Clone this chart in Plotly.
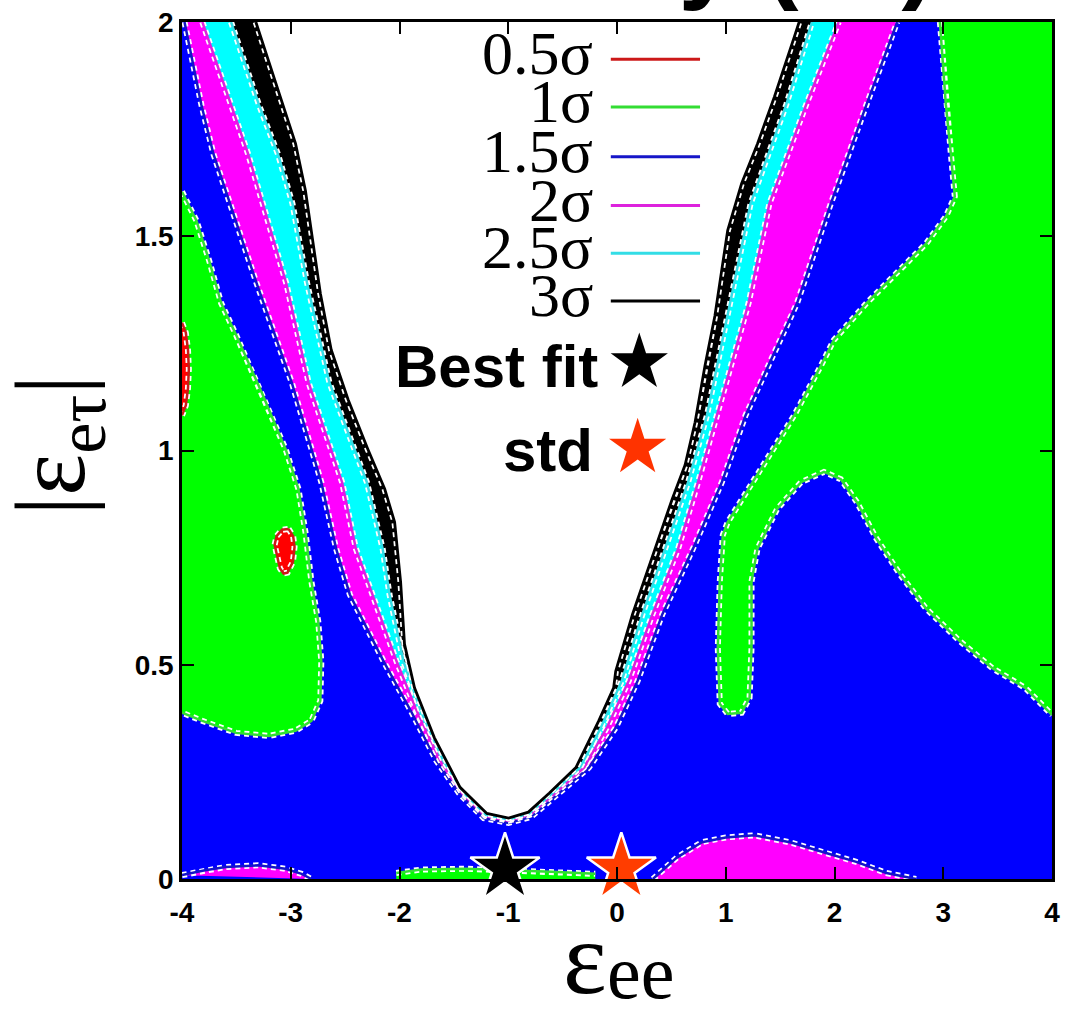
import plotly.graph_objects as go

# ---------------- axes ----------------
x_range = [-4, 4]
y_range = [0, 2]
x_ticks = [-4, -3, -2, -1, 0, 1, 2, 3, 4]
x_tick_labels = ['-4', '-3', '-2', '-1', '0', '1', '2', '3', '4']
y_ticks = [0, 0.5, 1, 1.5, 2]
y_tick_labels = ['0', '0.5', '1', '1.5', '2']

# ---------------- contour boundaries (eps_ee, |eps_etau|) ----------------
# 3 sigma (edge of the excluded white region)
s3_x = [-3.321, -3.202, -3.084, -2.956, -2.865, -2.810, -2.728, -2.628, -2.473, -2.291,
        -2.136, -2.045, -2.018, -1.990, -1.954, -1.862, -1.680, -1.443, -1.197, -0.997,
        -0.815, -0.624, -0.378, -0.168, -0.031, -0.012, 0.143, 0.352, 0.508, 0.626,
        0.718, 0.809, 0.900, 1.018, 1.146, 1.292, 1.447, 1.629, 1.675]
s3_y = [2.0, 1.908, 1.815, 1.716, 1.607, 1.514, 1.367, 1.235, 1.119, 1.003,
        0.910, 0.833, 0.771, 0.694, 0.548, 0.446, 0.330, 0.214, 0.153, 0.142,
        0.156, 0.200, 0.260, 0.369, 0.446, 0.485, 0.618, 0.771, 0.887, 0.966,
        1.066, 1.198, 1.314, 1.514, 1.623, 1.716, 1.825, 1.964, 2.0]

# 2.5 sigma
s25_x = [-3.549, -3.293, -3.118, -2.984, -2.850, -2.644, -2.300, -2.155, -2.092, -1.964,
         -1.804, -1.597, -1.406, -1.205, -0.997, -0.808,
         -0.597, -0.340, -0.149, 0.043, 0.234, 0.444, 0.654, 0.827, 1.036, 1.228, 1.556, 1.793]
s25_y = [2.0, 1.807, 1.692, 1.576, 1.391, 1.158, 0.926, 0.771, 0.664, 0.508,
         0.392, 0.276, 0.200, 0.150, 0.139, 0.153,
         0.200, 0.260, 0.353, 0.462, 0.618, 0.771, 0.926, 1.082, 1.344, 1.576, 1.807, 2.0]

# 2 sigma
s2_x = [-3.813, -3.548, -3.392, -3.257, -3.042, -2.835, -2.528, -2.401, -2.247, -2.027,
        -1.841, -1.625, -1.424, -1.212, -0.997, -0.800,
        -0.569, -0.304, -0.094, 0.107, 0.326, 0.562, 0.745, 0.918, 1.210, 1.401, 1.739, 2.039]
s2_y = [2.0, 1.807, 1.692, 1.576, 1.391, 1.158, 0.926, 0.771, 0.664, 0.508,
        0.392, 0.276, 0.200, 0.147, 0.136, 0.150,
        0.200, 0.260, 0.353, 0.462, 0.618, 0.771, 0.926, 1.082, 1.344, 1.576, 1.807, 2.0]

# 1.5 sigma
s15_x = [-3.977, -3.822, -3.711, -3.558, -3.315, -2.990, -2.719, -2.583, -2.457, -2.146,
         -1.895, -1.661, -1.452, -1.225, -0.997, -0.790,
         -0.532, -0.258, -0.012, 0.189, 0.417, 0.699, 0.964, 1.182, 1.656, 1.966, 2.294, 2.577]
s15_y = [2.0, 1.807, 1.692, 1.576, 1.391, 1.158, 0.926, 0.771, 0.664, 0.508,
         0.392, 0.276, 0.200, 0.142, 0.131, 0.145,
         0.200, 0.260, 0.353, 0.462, 0.618, 0.771, 0.926, 1.082, 1.344, 1.576, 1.807, 2.0]

# 1.5 sigma islands near |eps_etau| = 0 (2 sigma inside)
m_left_x = [-4.0, -3.80, -3.60, -3.30, -3.05, -2.90, -2.81]
m_left_y = [0.009, 0.020, 0.028, 0.032, 0.024, 0.012, 0.0]
m_right_x = [0.33, 0.55, 0.781, 1.0, 1.264, 1.60, 1.930, 2.20, 2.477, 2.75]
m_right_y = [0.0, 0.050, 0.086, 0.097, 0.102, 0.085, 0.060, 0.040, 0.014, 0.0]

# 1 sigma regions
g_left_x = [-4.0, -3.868, -3.749, -3.640, -3.503, -3.266, -3.047, -2.929, -2.865, -2.810,
            -2.747, -2.719, -2.728, -2.810, -2.956, -3.202, -3.503, -3.813, -4.0]
g_left_y = [1.604, 1.537, 1.442, 1.344, 1.270, 1.135, 1.003, 0.910, 0.810, 0.694,
            0.601, 0.508, 0.416, 0.369, 0.346, 0.334, 0.341, 0.369, 0.388]
g_right_x = [2.969, 3.024, 3.070, 3.106, 3.024, 2.842, 2.541, 2.295, 1.994, 1.875,
             1.629, 1.383, 1.173, 1.018, 0.973, 0.945, 0.927, 0.945, 1.018, 1.146,
             1.219, 1.237, 1.237, 1.292, 1.474, 1.693, 1.903, 2.058, 2.204, 2.386,
             2.605, 2.842, 3.152, 3.452, 3.753, 4.0]
g_right_y = [2.0, 1.807, 1.692, 1.593, 1.546, 1.483, 1.407, 1.344, 1.258, 1.198,
             1.082, 0.980, 0.896, 0.833, 0.803, 0.694, 0.539, 0.409, 0.385, 0.388,
             0.423, 0.539, 0.694, 0.771, 0.864, 0.926, 0.950, 0.933, 0.880, 0.794,
             0.710, 0.631, 0.555, 0.492, 0.446, 0.383]
g_bottom_x = [-2.03, -2.03, -1.80, -1.40, -1.00, -0.60, -0.20, -0.20]
g_bottom_y = [0.0, 0.014, 0.022, 0.024, 0.021, 0.017, 0.012, 0.0]

# 0.5 sigma islands
r1_x = [-4.0, -3.965, -3.945, -3.937, -3.945, -3.965, -4.0]
r1_y = [1.298, 1.275, 1.235, 1.190, 1.145, 1.105, 1.082]
r2_x = [-3.020, -2.978, -2.965, -2.980, -3.030, -3.066, -3.100, -3.130, -3.148, -3.130, -3.080]
r2_y = [0.817, 0.800, 0.775, 0.740, 0.715, 0.713, 0.725, 0.760, 0.780, 0.800, 0.815]

# points
best_fit_x = [-1.03]
best_fit_y = [0.024]
std_x = [0.04]
std_y = [0.024]

# legend
legend_labels = ['0.5σ', '1σ', '1.5σ', '2σ', '2.5σ', '3σ']
legend_colors = ['#CC1818', '#33DD33', '#1515C8', '#DD22DD', '#33DDE6', '#000000']

# ---------------- styles ----------------
C_BLUE = '#0000FF'
C_GREEN = '#00FF00'
C_MAG = '#FF00FF'
C_CYAN = '#00FFFF'
C_BLACK = '#000000'
C_RED = '#FF0000'
L_RED, L_GREEN, L_BLUE, L_MAG, L_CYAN, L_BLACK = legend_colors

fig = go.Figure()


def fill(xs, ys, color):
    fig.add_trace(go.Scatter(x=xs, y=ys, fill='toself', fillcolor=color, mode='none',
                             hoverinfo='skip', showlegend=False))


def contour_line(xs, ys, color, width=2.5):
    fig.add_trace(go.Scatter(x=xs, y=ys, mode='lines',
                             line=dict(color='white', width=width + 3.5, dash='5px,4px'),
                             hoverinfo='skip', showlegend=False))
    fig.add_trace(go.Scatter(x=xs, y=ys, mode='lines', line=dict(color=color, width=width),
                             hoverinfo='skip', showlegend=False))


# base: 1 - 1.5 sigma everywhere
fill([x_range[0], x_range[1], x_range[1], x_range[0]],
     [y_range[0], y_range[0], y_range[1], y_range[1]], C_BLUE)
# V-shaped bands
fill(s15_x, s15_y, C_MAG)
fill(s2_x, s2_y, C_CYAN)
fill(s25_x, s25_y, C_BLACK)
fill(s3_x, s3_y, 'white')
# bottom magenta islands
fill(m_left_x, m_left_y, C_MAG)
fill(m_right_x, m_right_y, C_MAG)
# green regions
fill(g_left_x, g_left_y, C_GREEN)
fill(g_right_x + [x_range[1]], g_right_y + [y_range[1]], C_GREEN)
fill(g_bottom_x, g_bottom_y, C_GREEN)
# red islands
fill(r1_x, r1_y, C_RED)
fill(r2_x, r2_y, C_RED)

# contour lines
contour_line(g_left_x, g_left_y, L_GREEN)
contour_line(g_right_x, g_right_y, L_GREEN)
contour_line(g_bottom_x[1:-1], g_bottom_y[1:-1], L_GREEN)
contour_line(s15_x, s15_y, L_BLUE)
contour_line(m_left_x, m_left_y, L_BLUE)
contour_line(m_right_x, m_right_y, L_BLUE)
contour_line(s2_x, s2_y, L_MAG)
contour_line(s25_x, s25_y, L_CYAN)
contour_line(s3_x, s3_y, L_BLACK, 2.8)
contour_line(r1_x, r1_y, L_RED)
contour_line(r2_x + r2_x[:1], r2_y + r2_y[:1], L_RED)

# stars
fig.add_trace(go.Scatter(x=best_fit_x, y=best_fit_y, mode='markers', cliponaxis=False,
                         marker=dict(symbol='star', size=52, color='black',
                                     line=dict(color='white', width=2.5)),
                         showlegend=False, hoverinfo='skip'))
fig.add_trace(go.Scatter(x=std_x, y=std_y, mode='markers', cliponaxis=False,
                         marker=dict(symbol='star', size=52, color='#FF3D00',
                                     line=dict(color='white', width=2.5)),
                         showlegend=False, hoverinfo='skip'))

# ---------------- legend (drawn inside the plot) ----------------
PX_L, PX_W = 182.5, 877.5
PY_B, PY_H = 879.0, 861.5


def px_x(p):
    return (p - PX_L) / PX_W


def px_y(p):
    return (PY_B - p) / PY_H


annotations = []
shapes = []
leg_rows = [55, 103, 153, 202, 250, 298]
for lab, col, row in zip(legend_labels, legend_colors, leg_rows):
    annotations.append(dict(x=px_x(599), y=px_y(row - 6), xref='paper', yref='paper',
                            xanchor='right', yanchor='middle', text=lab, showarrow=False,
                            font=dict(family='Liberation Serif', size=62, color='black')))
    shapes.append(dict(type='line', xref='paper', yref='paper', x0=px_x(615), x1=px_x(705),
                       y0=px_y(row), y1=px_y(row), line=dict(color=col, width=3)))

annotations.append(dict(x=px_x(604), y=px_y(364), xref='paper', yref='paper',
                        xanchor='right', yanchor='middle', text='Best fit', showarrow=False,
                        font=dict(family='Liberation Sans', size=60, color='black', weight='bold')))
annotations.append(dict(x=px_x(599), y=px_y(448), xref='paper', yref='paper',
                        xanchor='right', yanchor='middle', text='std', showarrow=False,
                        font=dict(family='Liberation Sans', size=60, color='black', weight='bold')))

# legend star samples (layout positions in axis units)
fig.add_trace(go.Scatter(x=[0.205], y=[1.205], mode='markers', hoverinfo='skip', showlegend=False,
                         marker=dict(symbol='star', size=43, color='black')))
fig.add_trace(go.Scatter(x=[0.19], y=[1.006], mode='markers', hoverinfo='skip', showlegend=False,
                         marker=dict(symbol='star', size=43, color='#FF3300')))

# axis titles
annotations.append(dict(x=px_x(613), y=px_y(958), xref='paper', yref='paper',
                        xanchor='right', yanchor='middle', text='ε', showarrow=False,
                        font=dict(family='Liberation Serif', size=104, color='black')))
annotations.append(dict(x=px_x(609), y=px_y(972), xref='paper', yref='paper',
                        xanchor='left', yanchor='middle', text='ee', showarrow=False,
                        font=dict(family='Liberation Serif', size=76, color='black')))
annotations.append(dict(x=px_x(57), y=px_y(443), xref='paper', yref='paper',
                        xanchor='center', yanchor='middle', textangle=-90,
                        text='|ε<sub>eτ</sub>|', showarrow=False,
                        font=dict(family='Liberation Serif', size=100, color='black')))
# title (mostly above the visible page, only descenders show)
annotations.append(dict(x=px_x(945), y=px_y(8), xref='paper', yref='paper',
                        xanchor='right', yanchor='bottom', text='NOvA only (IH)', showarrow=False,
                        font=dict(family='Liberation Sans', size=103, color='black', weight='bold')))

axis_common = dict(showgrid=False, zeroline=False, showline=True, linecolor='black', linewidth=2.5,
                   mirror='ticks', ticks='inside', ticklen=12, tickwidth=2, tickcolor='black',
                   tickfont=dict(family='Liberation Sans', size=28, color='black', weight='bold'))

fig.update_layout(
    width=1067, height=1011,
    margin=dict(l=182, r=7, t=17, b=132),
    paper_bgcolor='white', plot_bgcolor='white',
    xaxis=dict(range=x_range, tickvals=x_ticks, ticktext=x_tick_labels,
               ticklabelstandoff=7, **axis_common),
    yaxis=dict(range=y_range, tickvals=y_ticks, ticktext=y_tick_labels,
               ticklabelstandoff=0, **axis_common),
    annotations=annotations, shapes=shapes, showlegend=False,
)

fig.write_html('out.html')
